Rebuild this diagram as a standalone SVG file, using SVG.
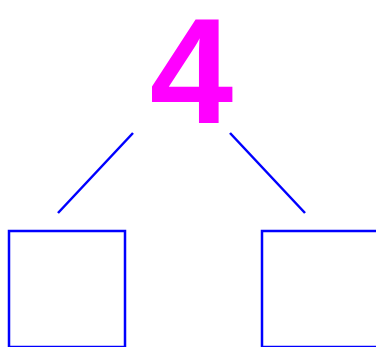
<svg xmlns="http://www.w3.org/2000/svg" width="376" height="347" viewBox="0 0 376 347">
<style>
.n{fill:none;stroke:#0000ff;stroke-width:2.5}
.c{stroke:#0000ff;stroke-width:2.5;fill:none}
.t{font-family:"Liberation Sans",Arial,sans-serif;font-weight:bold;fill:#ff00ff}
</style>
<rect width="376" height="347" fill="#ffffff"/>
<g id="root"><text class="t" x="191.5" y="123" font-size="150" text-anchor="middle">4</text></g>
<g id="connectors">
<line class="c" x1="133" y1="133" x2="58" y2="213"/>
<line class="c" x1="230" y1="133" x2="305" y2="213"/>
</g>
<g id="left"><rect class="n" x="9" y="231" width="116" height="116"/></g>
<g id="right"><rect class="n" x="262" y="231" width="116" height="116"/></g>
</svg>
